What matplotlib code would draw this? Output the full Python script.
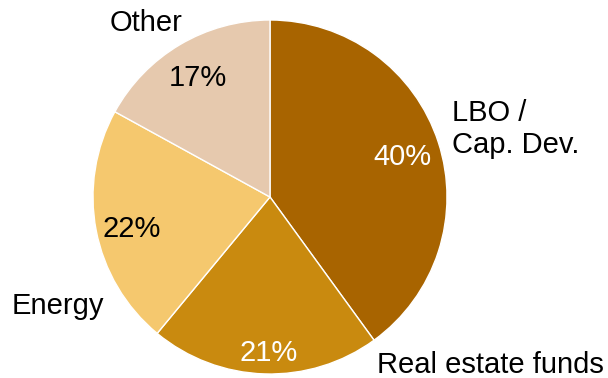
import matplotlib.pyplot as plt

plt.rcParams['font.family'] = ['Liberation Sans', 'DejaVu Sans']

categories = ["LBO /\nCap. Dev.", "Real estate funds", "Energy", "Other"]
shares = [40, 21, 22, 17]
colors = ["#a86400", "#c98a0f", "#f5c86e", "#e6c9ae"]
pct_colors = ["white", "white", "black", "black"]

# label anchors in pie units: outside names, and percentages inside
label_pos = [(1.028, 0.384, "left"), (1.243, -0.949, "center"),
             (-1.198, -0.616, "center"), (-0.70, 0.983, "center")]
pct_pos = [(0.751, 0.226), (-0.006, -0.881), (-0.780, -0.181), (-0.407, 0.672)]

fig = plt.figure(figsize=(6.08, 3.78), dpi=100)
ax = fig.add_axes([93 / 608, 4 / 378, 354 / 608, 354 / 378])

wedges, texts, autotexts = ax.pie(
    shares, colors=colors, startangle=90, counterclock=False,
    autopct="%d%%", pctdistance=0.79,
    wedgeprops=dict(edgecolor="white", linewidth=1),
    textprops=dict(fontsize=21))

for t, c, p in zip(autotexts, pct_colors, pct_pos):
    t.set_color(c)
    t.set_position(p)

for name, (x, y, ha) in zip(categories, label_pos):
    ax.text(x, y, name, ha=ha, va="center", fontsize=21, linespacing=1.15,
            clip_on=False)

ax.set_xlim(-1, 1)
ax.set_ylim(-1, 1)
ax.set_aspect("auto")
ax.axis("off")

fig.savefig("out.png", dpi=100)
